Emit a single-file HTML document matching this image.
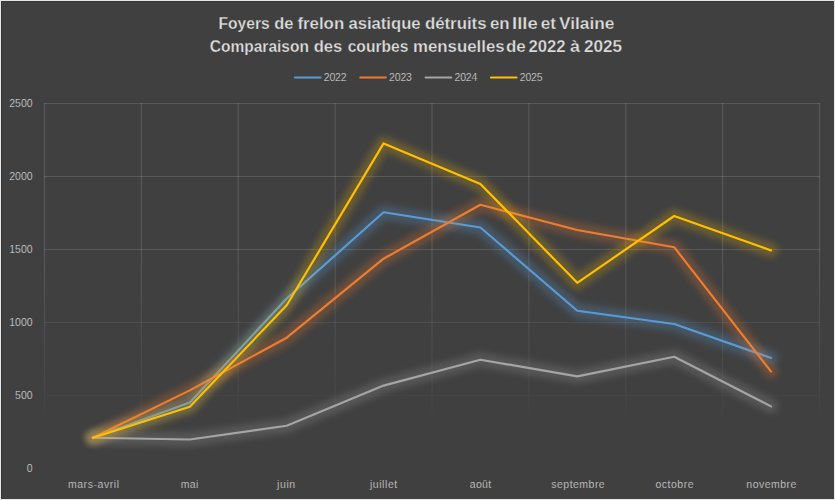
<!DOCTYPE html>
<html><head><meta charset="utf-8"><title>chart</title>
<style>
html,body{margin:0;padding:0;background:#404040;}
body{width:835px;height:500px;overflow:hidden;font-family:"Liberation Sans",sans-serif;}
svg{display:block;}
text{font-family:"Liberation Sans",sans-serif;}
.t{font-weight:bold;font-size:16.5px;fill:#dcdcdc;stroke:#404040;stroke-width:0.25px;}
.l{font-size:10.5px;fill:#dadada;stroke:#404040;stroke-width:0.22px;}
</style></head><body>
<svg width="835" height="500" viewBox="0 0 835 500">
<defs>
<linearGradient id="vg" gradientUnits="userSpaceOnUse" x1="0" y1="103" x2="0" y2="469">
<stop offset="0" stop-color="#fff" stop-opacity="0.13"/>
<stop offset="0.40" stop-color="#fff" stop-opacity="0.13"/>
<stop offset="0.64" stop-color="#fff" stop-opacity="0.07"/>
<stop offset="0.80" stop-color="#fff" stop-opacity="0.03"/>
<stop offset="0.88" stop-color="#fff" stop-opacity="0"/>
<stop offset="1" stop-color="#fff" stop-opacity="0"/>
</linearGradient>
<filter id="gl" x="0" y="0" width="835" height="500" filterUnits="userSpaceOnUse">
<feGaussianBlur stdDeviation="3"/>
</filter>
</defs>
<rect x="0" y="0" width="835" height="500" fill="#404040"/>

<g>
<line x1="44.50" y1="103" x2="44.50" y2="469" stroke="url(#vg)" stroke-width="1.15"/>
<line x1="141.38" y1="103" x2="141.38" y2="469" stroke="url(#vg)" stroke-width="1.15"/>
<line x1="238.25" y1="103" x2="238.25" y2="469" stroke="url(#vg)" stroke-width="1.15"/>
<line x1="335.12" y1="103" x2="335.12" y2="469" stroke="url(#vg)" stroke-width="1.15"/>
<line x1="432.00" y1="103" x2="432.00" y2="469" stroke="url(#vg)" stroke-width="1.15"/>
<line x1="528.88" y1="103" x2="528.88" y2="469" stroke="url(#vg)" stroke-width="1.15"/>
<line x1="625.75" y1="103" x2="625.75" y2="469" stroke="url(#vg)" stroke-width="1.15"/>
<line x1="722.62" y1="103" x2="722.62" y2="469" stroke="url(#vg)" stroke-width="1.15"/>
<line x1="819.50" y1="103" x2="819.50" y2="469" stroke="url(#vg)" stroke-width="1.15"/>
<line x1="44" y1="103.5" x2="820" y2="103.5" stroke="#fff" stroke-opacity="0.130" stroke-width="1.15"/>
<line x1="44" y1="176.5" x2="820" y2="176.5" stroke="#fff" stroke-opacity="0.130" stroke-width="1.15"/>
<line x1="44" y1="249.5" x2="820" y2="249.5" stroke="#fff" stroke-opacity="0.130" stroke-width="1.15"/>
<line x1="44" y1="322.5" x2="820" y2="322.5" stroke="#fff" stroke-opacity="0.072" stroke-width="1.15"/>
<line x1="44" y1="395.5" x2="820" y2="395.5" stroke="#fff" stroke-opacity="0.018" stroke-width="1.15"/>
</g>
<g fill="none" stroke-linejoin="round" stroke-linecap="round" stroke="#5b9bd5">
<polyline points="92.9,437.8 189.8,402.6 286.7,298.5 383.6,212.3 480.4,227.5 577.3,310.8 674.2,324.0 771.1,358.0" stroke-width="14.5" opacity="0.25" filter="url(#gl)"/>
<polyline points="92.9,437.8 189.8,402.6 286.7,298.5 383.6,212.3 480.4,227.5 577.3,310.8 674.2,324.0 771.1,358.0" stroke-width="2.15"/>
</g>
<g fill="none" stroke-linejoin="round" stroke-linecap="round" stroke="#ed7d31">
<polyline points="92.9,437.8 189.8,390.4 286.7,337.7 383.6,258.7 480.4,204.8 577.3,230.0 674.2,247.2 771.1,371.6" stroke-width="14.5" opacity="0.24" filter="url(#gl)"/>
<polyline points="92.9,437.8 189.8,390.4 286.7,337.7 383.6,258.7 480.4,204.8 577.3,230.0 674.2,247.2 771.1,371.6" stroke-width="2.15"/>
</g>
<g fill="none" stroke-linejoin="round" stroke-linecap="round" stroke="#a5a5a5">
<polyline points="92.9,437.8 189.8,439.5 286.7,425.7 383.6,385.6 480.4,359.7 577.3,376.4 674.2,356.8 771.1,406.4" stroke-width="14.5" opacity="0.22" filter="url(#gl)"/>
<polyline points="92.9,437.8 189.8,439.5 286.7,425.7 383.6,385.6 480.4,359.7 577.3,376.4 674.2,356.8 771.1,406.4" stroke-width="2.15"/>
</g>
<g fill="none" stroke-linejoin="round" stroke-linecap="round" stroke="#ffc000">
<polyline points="92.9,437.8 189.8,406.8 286.7,305.3 383.6,143.4 480.4,183.9 577.3,282.8 674.2,216.0 771.1,250.4" stroke-width="14.5" opacity="0.215" filter="url(#gl)"/>
<polyline points="92.9,437.8 189.8,406.8 286.7,305.3 383.6,143.4 480.4,183.9 577.3,282.8 674.2,216.0 771.1,250.4" stroke-width="2.15"/>
</g>
<text class="t" x="218.4" y="29.2" textLength="51.3" lengthAdjust="spacingAndGlyphs">Foyers</text>
<text class="t" x="274.3" y="29.2" textLength="19.2" lengthAdjust="spacingAndGlyphs">de</text>
<text class="t" x="297.4" y="29.2" textLength="46.8" lengthAdjust="spacingAndGlyphs">frelon</text>
<text class="t" x="348.4" y="29.2" textLength="72.2" lengthAdjust="spacingAndGlyphs">asiatique</text>
<text class="t" x="424.9" y="29.2" textLength="61.7" lengthAdjust="spacingAndGlyphs">détruits</text>
<text class="t" x="490.0" y="29.2" textLength="19.6" lengthAdjust="spacingAndGlyphs">en</text>
<text class="t" x="512.1" y="29.2" textLength="25.7" lengthAdjust="spacingAndGlyphs">Ille</text>
<text class="t" x="540.8" y="29.2" textLength="15.2" lengthAdjust="spacingAndGlyphs">et</text>
<text class="t" x="559.0" y="29.2" textLength="55.4" lengthAdjust="spacingAndGlyphs">Vilaine</text>
<text class="t" x="209.7" y="52.2" textLength="99.3" lengthAdjust="spacingAndGlyphs">Comparaison</text>
<text class="t" x="313.7" y="52.2" textLength="28.6" lengthAdjust="spacingAndGlyphs">des</text>
<text class="t" x="347.7" y="52.2" textLength="60.7" lengthAdjust="spacingAndGlyphs">courbes</text>
<text class="t" x="413.0" y="52.2" textLength="91.6" lengthAdjust="spacingAndGlyphs">mensuelles</text>
<text class="t" x="505.9" y="52.2" textLength="19.8" lengthAdjust="spacingAndGlyphs">de</text>
<text class="t" x="528.4" y="52.2" textLength="37.1" lengthAdjust="spacingAndGlyphs">2022</text>
<text class="t" x="569.9" y="52.2" textLength="10.0" lengthAdjust="spacingAndGlyphs">à</text>
<text class="t" x="583.9" y="52.2" textLength="38.2" lengthAdjust="spacingAndGlyphs">2025</text>
<line x1="295" y1="77.5" x2="320.5" y2="77.5" stroke="#5b9bd5" stroke-width="2.2" stroke-linecap="round"/>
<text class="l" x="323.8" y="80.9" textLength="22.8" lengthAdjust="spacing">2022</text>
<line x1="360.3" y1="77.5" x2="385.8" y2="77.5" stroke="#ed7d31" stroke-width="2.2" stroke-linecap="round"/>
<text class="l" x="389.1" y="80.9" textLength="22.8" lengthAdjust="spacing">2023</text>
<line x1="425.7" y1="77.5" x2="451.2" y2="77.5" stroke="#a5a5a5" stroke-width="2.2" stroke-linecap="round"/>
<text class="l" x="454.5" y="80.9" textLength="22.8" lengthAdjust="spacing">2024</text>
<line x1="491" y1="77.5" x2="516.5" y2="77.5" stroke="#ffc000" stroke-width="2.2" stroke-linecap="round"/>
<text class="l" x="519.8" y="80.9" textLength="22.8" lengthAdjust="spacing">2025</text>
<text class="l" x="32.6" y="107.3" text-anchor="end">2500</text>
<text class="l" x="32.6" y="180.3" text-anchor="end">2000</text>
<text class="l" x="32.6" y="253.3" text-anchor="end">1500</text>
<text class="l" x="32.6" y="326.3" text-anchor="end">1000</text>
<text class="l" x="32.6" y="399.3" text-anchor="end">500</text>
<text class="l" x="32.6" y="472.3" text-anchor="end">0</text>
<text class="l" x="67.9" y="487.8" textLength="51.1" lengthAdjust="spacing">mars-avril</text>
<text class="l" x="180.7" y="487.8" textLength="17.6" lengthAdjust="spacing">mai</text>
<text class="l" x="277.1" y="487.8" textLength="18.1" lengthAdjust="spacing">juin</text>
<text class="l" x="369.9" y="487.8" textLength="27.3" lengthAdjust="spacing">juillet</text>
<text class="l" x="469.7" y="487.8" textLength="21.5" lengthAdjust="spacing">août</text>
<text class="l" x="551.3" y="487.8" textLength="53.4" lengthAdjust="spacing">septembre</text>
<text class="l" x="655.4" y="487.8" textLength="38.2" lengthAdjust="spacing">octobre</text>
<text class="l" x="746.3" y="487.8" textLength="50.1" lengthAdjust="spacing">novembre</text>
<g shape-rendering="crispEdges">
<rect x="1" y="1" width="833" height="1" fill="#363636"/>
<rect x="1" y="1" width="1" height="498" fill="#363636"/>
<rect x="0" y="0" width="835" height="1" fill="#e6e6e6"/>
<rect x="0" y="0" width="1" height="500" fill="#e6e6e6"/>
<rect x="834" y="0" width="1" height="500" fill="#e6e6e6"/>
<rect x="0" y="499" width="835" height="1" fill="#e6e6e6"/>
</g>
</svg>
</body></html>
